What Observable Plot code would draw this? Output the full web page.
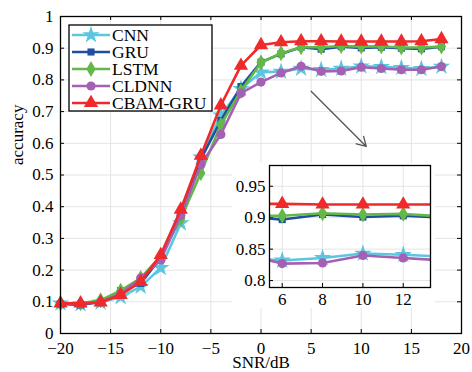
<!DOCTYPE html>
<html>
<head>
<meta charset="utf-8">
<script src="https://cdn.jsdelivr.net/npm/d3@7"></script>
<script src="https://cdn.jsdelivr.net/npm/@observablehq/plot@0.6"></script>
<style>
  html, body { margin: 0; padding: 0; background: white; }
  #wrap { position: relative; width: 472px; height: 372px; overflow: hidden; }
  #inset { position: absolute; left: 232px; top: 163px; }
</style>
</head>
<body>
<div id="wrap"><div id="main"></div><div id="inset"></div></div>
<script>
// ---- data ----
const snr = [-20, -18, -16, -14, -12, -10, -8, -6, -4, -2, 0, 2, 4, 6, 8, 10, 12, 14, 16, 18];
const modelNames = ["CNN", "GRU", "LSTM", "CLDNN", "CBAM-GRU"];
const cnn     = [0.095, 0.093, 0.098, 0.115, 0.148, 0.207, 0.348, 0.556, 0.688, 0.772, 0.824, 0.826, 0.836, 0.832, 0.836, 0.843, 0.841, 0.838, 0.835, 0.842];
const gru     = [0.093, 0.090, 0.100, 0.135, 0.158, 0.240, 0.380, 0.550, 0.672, 0.779, 0.856, 0.882, 0.903, 0.897, 0.905, 0.901, 0.903, 0.900, 0.898, 0.905];
const lstm    = [0.095, 0.095, 0.105, 0.135, 0.175, 0.245, 0.362, 0.506, 0.659, 0.765, 0.855, 0.884, 0.903, 0.903, 0.907, 0.905, 0.906, 0.902, 0.902, 0.905];
const cldnn   = [0.095, 0.093, 0.100, 0.125, 0.175, 0.232, 0.372, 0.533, 0.628, 0.758, 0.793, 0.822, 0.843, 0.827, 0.828, 0.840, 0.836, 0.832, 0.832, 0.842];
const cbamgru = [0.095, 0.095, 0.098, 0.122, 0.163, 0.248, 0.391, 0.561, 0.720, 0.845, 0.910, 0.919, 0.922, 0.922, 0.921, 0.921, 0.921, 0.921, 0.922, 0.929];
const seriesValues = [cnn, gru, lstm, cldnn, cbamgru];

const xTicks = [-20, -15, -10, -5, 0, 5, 10, 15, 20];
const xTickLabels = ["\u221220", "\u221215", "\u221210", "\u22125", "0", "5", "10", "15", "20"];
const yTicks = [0, 0.1, 0.2, 0.3, 0.4, 0.5, 0.6, 0.7, 0.8, 0.9, 1];
const yTickLabels = ["0", "0.1", "0.2", "0.3", "0.4", "0.5", "0.6", "0.7", "0.8", "0.9", "1"];
const insetXTicks = [6, 8, 10, 12];
const insetXTickLabels = ["6", "8", "10", "12"];
const insetYTicks = [0.8, 0.85, 0.9, 0.95];
const insetYTickLabels = ["0.8", "0.85", "0.9", "0.95"];
const xLabel = "SNR/dB";
const yLabel = "accuracy";
const arrowFrom = [5, 0.764];
const arrowTo = [10.5, 0.59];

// ---- styles ----
const colors = ["#5cc6df", "#1f4f9e", "#63b847", "#a461b4", "#ee2a2a"];
const symbols = ["star", "square", "diamond", "circle", "triangle"];
const radii = [5.5, 4, 4.8, 4.6, 5.3];
const font = "'Liberation Serif', 'Times New Roman', serif";

const rows = modelNames.flatMap((m, i) => snr.map((s, j) => ({model: m, snr: s, acc: seriesValues[i][j], idx: i})));
const fmt = (ticks, labels) => d => { const k = ticks.findIndex(t => Math.abs(t - d) < 1e-9); return k >= 0 ? labels[k] : ""; };

function seriesMarks(clip) {
  return modelNames.flatMap((m, i) => {
    const data = rows.filter(r => r.model === m);
    return [
      Plot.line(data, {x: "snr", y: "acc", stroke: colors[i], strokeWidth: 2.6, clip}),
      Plot.dot(data, {x: "snr", y: "acc", fill: colors[i], symbol: () => symbols[i], r: radii[i], clip})
    ];
  });
}

// main chart
const W = 472, H = 372, mL = 60, mR = 11, mT = 16, mB = 39;
const pw = W - mL - mR, ph = H - mT - mB;
const grid = "#e4e4e4";
const main = Plot.plot({
  width: W, height: H, marginLeft: mL, marginRight: mR, marginTop: mT, marginBottom: mB,
  style: {fontFamily: font, fontSize: "17px", background: "white", color: "black", overflow: "visible"},
  x: {domain: [-20, 20], ticks: xTicks, tickFormat: fmt(xTicks, xTickLabels), tickSize: 0, tickPadding: 8, label: null},
  y: {domain: [0, 1], ticks: yTicks, tickFormat: fmt(yTicks, yTickLabels), tickSize: 0, tickPadding: 7, label: null},
  symbol: {domain: symbols, range: symbols},
  marks: [
    Plot.ruleX(xTicks, {stroke: grid, strokeWidth: 1}),
    Plot.ruleY(yTicks, {stroke: grid, strokeWidth: 1}),
    Plot.ruleX(xTicks, {stroke: "black", insetTop: ph - 4}),
    Plot.ruleX(xTicks, {stroke: "black", insetBottom: ph - 4}),
    Plot.ruleY(yTicks, {stroke: "black", insetRight: pw - 4}),
    Plot.ruleY(yTicks, {stroke: "black", insetLeft: pw - 4}),
    ...seriesMarks(false),
    Plot.arrow([{x1: arrowFrom[0], y1: arrowFrom[1], x2: arrowTo[0], y2: arrowTo[1]}],
      {x1: "x1", y1: "y1", x2: "x2", y2: "y2", stroke: "#555", strokeWidth: 1.3, headLength: 12}),
    Plot.frame({stroke: "black", strokeWidth: 1.3}),
    Plot.text([xLabel], {frameAnchor: "bottom", dy: 34, fontSize: 17, text: d => d}),
    Plot.text([yLabel], {frameAnchor: "left", dx: -43, dy: -10, rotate: -90, fontSize: 17, text: d => d})
  ]
});
document.getElementById("main").appendChild(main);

// legend drawn inside main svg
const svgSel = d3.select(main.tagName.toLowerCase() === "svg" ? main : main.querySelector("svg"));
const lg = svgSel.append("g").attr("font-family", font).attr("text-anchor", "start");
const lgX = 69, lgY = 25, lgW = 143, lgH = 86, rowH = 17, row0 = 35;
lg.append("rect").attr("x", lgX).attr("y", lgY).attr("width", lgW).attr("height", lgH)
  .attr("fill", "white").attr("stroke", "black").attr("stroke-width", 1.3);
const symMap = {star: d3.symbolStar, square: d3.symbolSquare, diamond: d3.symbolDiamond, circle: d3.symbolCircle, triangle: d3.symbolTriangle};
modelNames.forEach((m, i) => {
  const y = row0 + i * rowH;
  lg.append("line").attr("x1", 72).attr("x2", 110).attr("y1", y).attr("y2", y)
    .attr("stroke", colors[i]).attr("stroke-width", 2.6);
  lg.append("path").attr("transform", `translate(91,${y})`)
    .attr("d", d3.symbol(symMap[symbols[i]], Math.PI * radii[i] * radii[i])())
    .attr("fill", colors[i]);
  lg.append("text").attr("x", 112).attr("y", y).attr("dy", "0.35em")
    .attr("text-anchor", "start")
    .attr("font-size", 17.5).attr("fill", "black").text(m);
});

// inset chart
const iW = 203, iH = 145, iL = 37, iT = 2, iR = 5, iB = 21;
const ipw = iW - iL - iR, iph = iH - iT - iB;
const inset = Plot.plot({
  width: iW, height: iH, marginLeft: iL, marginRight: iR, marginTop: iT, marginBottom: iB,
  style: {fontFamily: font, fontSize: "17px", background: "white", color: "black"},
  x: {domain: [5.37, 13.35], ticks: insetXTicks, tickFormat: fmt(insetXTicks, insetXTickLabels), tickSize: 0, tickPadding: 5, label: null},
  y: {domain: [0.789, 0.983], ticks: insetYTicks, tickFormat: fmt(insetYTicks, insetYTickLabels), tickSize: 0, tickPadding: 4, label: null},
  marks: [
    Plot.ruleX(insetXTicks, {stroke: grid}),
    Plot.ruleY(insetYTicks, {stroke: grid}),
    Plot.ruleX(insetXTicks, {stroke: "black", insetTop: iph - 4}),
    Plot.ruleY(insetYTicks, {stroke: "black", insetRight: ipw - 4}),
    ...seriesMarks(true),
    Plot.frame({stroke: "black", strokeWidth: 1.3})
  ]
});
document.getElementById("inset").appendChild(inset);
</script>
</body>
</html>
